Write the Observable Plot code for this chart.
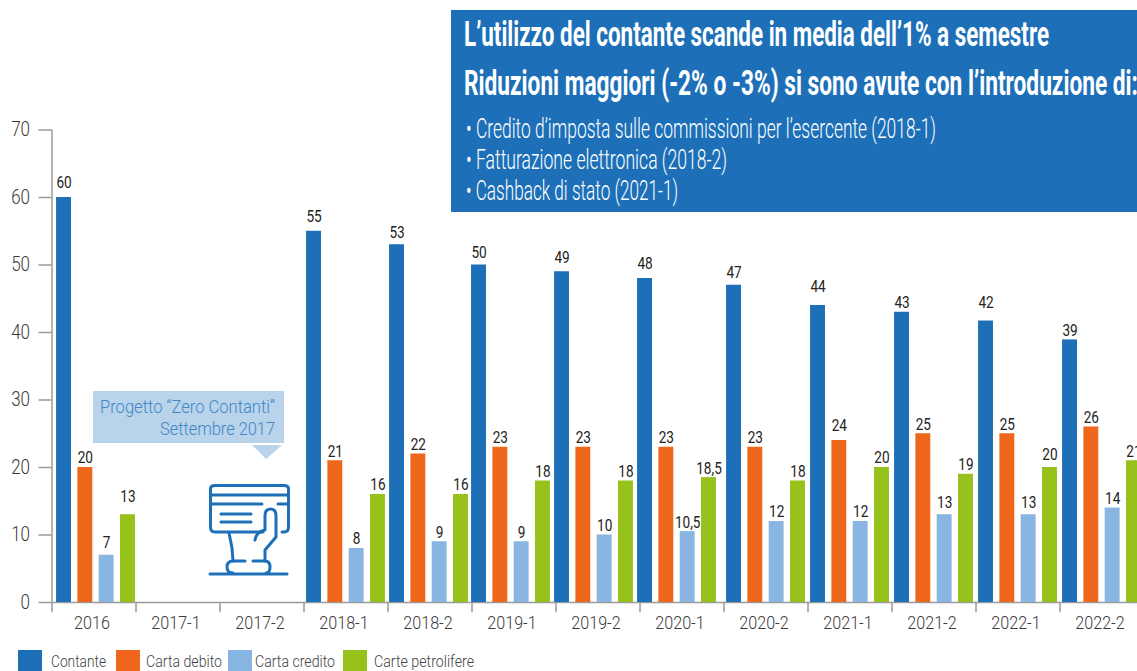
<!DOCTYPE html>
<html lang="it"><head><meta charset="utf-8">
<script src="https://cdn.jsdelivr.net/npm/d3@7"></script>
<script src="https://cdn.jsdelivr.net/npm/@observablehq/plot@0.6"></script>
<style>
html,body{margin:0;padding:0;background:#fff;overflow:hidden}
#page{position:relative;width:1137px;height:671px;overflow:hidden;font-family:Roboto,sans-serif}
#chart svg{display:block;overflow:hidden}
.fit{position:absolute;white-space:nowrap;transform-origin:0 50%;line-height:1}
.swatch{position:absolute;top:650px;height:21px;width:24px}
#box{position:absolute;left:451px;top:10px;width:686px;height:202px;background:#1d70b8}
#callout{position:absolute;left:93px;top:391px;width:191px;height:52px;background:#b8d3ea}
</style></head><body>
<div id="page">
<div id="chart"></div>
<div id="box"></div>
<div id="callout"></div>
<svg id="icon" width="1137" height="671" style="position:absolute;left:0;top:0;pointer-events:none" fill="none" stroke="#1d70b8" stroke-width="3" stroke-linecap="round" stroke-linejoin="round">
<path d="M252 445H282L266 459Z" fill="#b8d3ea" stroke="none"/>
<path d="M263 532H215Q210.500 532 210.500 527V489Q210.500 485.500 215 485.500H284Q288.500 485.500 288.500 489V527Q288.500 532 284 532H282"/>
<path d="M211 495H288M211 504H262M278 504H288M221 514H251M221 522H251"/>
<path d="M255 540Q256 532 265 530V516Q265 509 270.500 509Q276 509 276 516V537L265 550V561"/>
<path d="M229 533L232 548L233 561"/>
<path d="M245 561H233Q227 561 227 567Q227 573 233 573M253 561H265Q270 561 270 567Q270 573 266 573"/>
<path d="M210 574H287"/>
</svg>
</div>
<script>
const periods = ["2016","2017-1","2017-2","2018-1","2018-2","2019-1","2019-2","2020-1","2020-2","2021-1","2021-2","2022-1","2022-2"];
const seriesNames = ["Contante","Carta debito","Carta credito","Carte petrolifere"];
const seriesColors = ["#1d70b8","#ee671a","#88b5e1","#97c11b"];
const contante = [60,null,null,55,53,50,49,48,47,44,43,41.7,38.9];
const cartaDebito = [20,null,null,21,22,23,23,23,23,24,25,25,26];
const cartaCredito = [7,null,null,8,9,9,10,10.5,12,12,13,13,14];
const cartePetrolifere = [13,null,null,16,16,18,18,18.5,18,20,19,20,21];

const columns = [contante,cartaDebito,cartaCredito,cartePetrolifere];
const rows = periods.flatMap((period,i)=>seriesNames.map((series,j)=>({period,series,value:columns[j][i]}))).filter(d=>d.value!=null);
const label = d => d.series==="Contante" ? String(Math.round(d.value)) : String(d.value).replace(".",",");

// The original's groups sit slightly off their category slots (pixel nudge per period)
const groupNudge = {"2016":2,"2018-2":-1,"2019-1":-3,"2019-2":-4,"2020-1":-5};
// How far each hand-placed value label floats above its bar in the original
const key = d => d.period+"|"+d.series;
const liftTiers = [
  [-12.5,["2016|Carta credito","2018-2|Contante","2019-1|Contante","2020-2|Contante","2021-2|Carta credito","2022-1|Carta credito","2022-1|Carte petrolifere"]],
  [-14.5,["2016|Contante","2018-1|Contante","2019-2|Contante","2020-1|Contante","2021-1|Carta debito"]],
  [-18.5,["2016|Carte petrolifere","2021-1|Contante","2022-1|Contante"]]
];
const liftOf = d => { for (const [dy,keys] of liftTiers) if (keys.includes(key(d))) return dy; return -9.5; };

const tickRows = periods.map((period,i)=>({period,top:i===0?70:0}));
const gray = "#9a9a9a";

const barGroups = d3.groups(rows,d=>groupNudge[d.period]||0).map(([dx,data])=>
  Plot.barY(data,{fx:"period",x:"series",y:"value",fill:"series",dx}));
const textGroups = d3.groups(rows,d=>groupNudge[d.period]||0,liftOf).flatMap(([dx,byLift])=>
  byLift.map(([dy,data])=>Plot.text(data,{fx:"period",x:"series",y:"value",text:label,fill:"#222",fontSize:17,fontWeight:400,dx,dy})));

const chart = Plot.plot({
  width:1137,height:645,
  marginTop:129.5,marginBottom:43,marginLeft:51.5,marginRight:-6.5,
  style:{fontFamily:"Roboto, sans-serif",background:"#fff"},
  fx:{domain:periods,padding:0,round:false,label:null},
  x:{domain:seriesNames,paddingInner:0.3,paddingOuter:0.12,round:false,axis:null,label:null},
  y:{domain:[0,70],label:null,axis:null},
  color:{domain:seriesNames,range:seriesColors},
  marks:[
    Plot.ruleY([0],{stroke:gray,strokeWidth:1.5}),
    Plot.ruleX(tickRows,{fx:"period",x:()=>"Contante",dx:-10,y1:-1.5,y2:"top",stroke:gray,strokeWidth:1.5}),
    Plot.axisY({ticks:d3.range(0,71,10),anchor:"left",tickSize:13,tickPadding:9,stroke:gray,strokeWidth:1.5,fill:"#3a3a3a",fontSize:20,fontWeight:300,label:null}),
    Plot.axisFx({anchor:"bottom",tickSize:0,tickPadding:13,dx:-2,fill:"#3a3a3a",fontSize:19,fontWeight:300,label:null}),
    ...barGroups,
    ...textGroups
  ]
});
document.getElementById("chart").append(chart);

// The original's type is condensed: narrow the chart's texts about their own anchors
chart.querySelectorAll("text").forEach(t=>{
  const condense = parseFloat(getComputedStyle(t).fontSize)===17 ? 0.8 : 0.85;
  const x=t.getAttribute("x");
  if (x!=null) t.setAttribute("x",+x/condense);
  t.setAttribute("transform",(t.getAttribute("transform")||"")+` scale(${condense},1)`);
});

const page = document.getElementById("page");
function fit(text,left,right,centerY,css){
  const s=document.createElement("div");
  s.className="fit"; s.textContent=text; s.style.left=left+"px";
  Object.assign(s.style,css);
  page.append(s);
  const r=s.getBoundingClientRect();
  s.style.top=(centerY-r.height/2)+"px";
  s.style.transform=`scaleX(${(right-left)/r.width})`;
}
const head={color:"#fff",fontWeight:700,fontSize:"35px"};
const sub={color:"#fff",fontWeight:300,fontSize:"27px"};
fit("L’utilizzo del contante scande in media dell’1% a semestre",464,1049,34,head);
fit("Riduzioni maggiori (-2% o -3%) si sono avute con l’introduzione di:",464,1138,83,head);
fit("• Credito d’imposta sulle commissioni per l’esercente (2018-1)",466,936,129,sub);
fit("• Fatturazione elettronica (2018-2)",466,727,160,sub);
fit("• Cashback di stato (2021-1)",466,678,191,sub);
const call={color:"#3f87c7",fontWeight:300,fontSize:"19px"};
fit("Progetto “Zero Contanti”",100,275,406,call);
fit("Settembre 2017",160,275,428,call);
const legendX=[[18,51,106],[116,146,222],[228,255,335],[343,374,474]];
seriesNames.forEach((n,i)=>{
  const sw=document.createElement("div");
  sw.className="swatch"; sw.style.left=legendX[i][0]+"px"; sw.style.background=seriesColors[i];
  page.append(sw);
  fit(n,legendX[i][1],legendX[i][2],661,{color:"#444",fontWeight:300,fontSize:"17px"});
});
</script>
</body></html>
